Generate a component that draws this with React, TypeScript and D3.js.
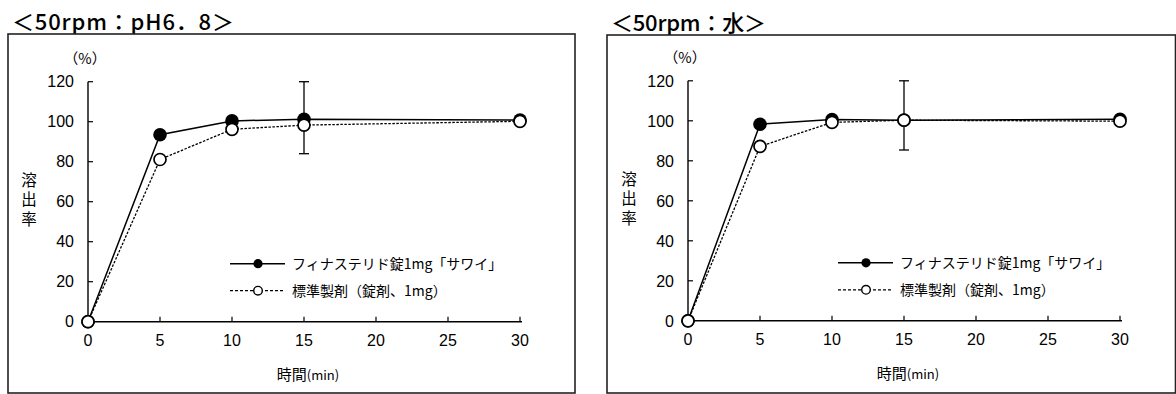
import * as d3 from "d3"

// dissolution data (time in min, % dissolved)
const times = [0, 5, 10, 15, 30]
const phTest = [0, 93.5, 100.4, 101.2, 100.8]
const phRef = [0, 81.1, 96.2, 98.3, 100.2]
const waterTest = [0, 98.3, 100.6, 100.3, 100.8]
const waterRef = [0, 87.2, 99.2, 100.3, 99.8]
const errTime = 15
const phErr = [84, 120]
const waterErr = [85.4, 120]

const xTicks = [0, 5, 10, 15, 20, 25, 30]
const yTicks = [0, 20, 40, 60, 80, 100, 120]
const testLabel = "フィナステリド錠1mg「サワイ」"
const refLabel = "標準製剤（錠剤、1mg）"
const yTitle = "溶出率"

const JP = "'Noto Sans CJK JP', sans-serif"
const NUM = "'Liberation Sans', Arial, sans-serif"

interface PanelProps {
  title: string
  titleWidth: number
  test: number[]
  ref: number[]
  err: number[]
  frame: { x: number; y: number; w: number; h: number }
  ox: number
  oy: number
  legendDx: number
}

const Panel = ({ title, titleWidth, test, ref, err, frame, ox, oy, legendDx }: PanelProps) => {
  const x = d3.scaleLinear().domain([0, 30]).range([ox, ox + 432])
  const y = d3.scaleLinear().domain([0, 120]).range([oy, oy - 240])

  const line = d3
    .line<number>()
    .x((_d, i) => x(times[i]))
    .y(d => y(d))

  const lx = ox + legendDx
  const rows = [y(29), y(15.5)]

  return (
    <g>
      <text
        x={frame.x + 4}
        y={frame.y - 4}
        fontFamily={JP}
        fontSize={22}
        fontWeight={500}
        textLength={titleWidth}
        lengthAdjust="spacing"
      >
        {title}
      </text>
      <rect
        x={frame.x}
        y={frame.y}
        width={frame.w}
        height={frame.h}
        fill="white"
        stroke="#222"
        strokeWidth={1.6}
      />

      {/* axes */}
      <line x1={ox} x2={ox} y1={y(0)} y2={y(120)} stroke="#000" strokeWidth={1.4} />
      <line x1={x(0)} x2={x(30) + 2} y1={y(0)} y2={y(0)} stroke="#000" strokeWidth={1.4} />
      {yTicks.map(t => (
        <g key={"y" + t}>
          <line x1={ox} x2={ox + 5} y1={y(t)} y2={y(t)} stroke="#000" strokeWidth={1.2} />
          <text
            x={ox - 14}
            y={y(t)}
            dy="0.36em"
            textAnchor="end"
            fontFamily={NUM}
            fontSize={16}
          >
            {t}
          </text>
        </g>
      ))}
      {xTicks.map(t => (
        <g key={"x" + t}>
          <line x1={x(t)} x2={x(t)} y1={y(0)} y2={y(0) - 5} stroke="#000" strokeWidth={1.2} />
          <text x={x(t)} y={y(0) + 24.5} textAnchor="middle" fontFamily={NUM} fontSize={16}>
            {t}
          </text>
        </g>
      ))}

      <text x={ox - 3} y={y(120) - 23} dy="0.36em" textAnchor="middle" fontFamily={JP} fontSize={14.5}>
        （%）
      </text>
      <text
        x={ox - 59}
        y={y(60.2)}
        textAnchor="middle"
        fontFamily={JP}
        fontSize={15.5}
        letterSpacing={4}
        style={{ writingMode: "vertical-rl" }}
      >
        {yTitle}
      </text>
      <text x={x(15) + 4} y={y(0) + 58} textAnchor="middle" fontFamily={JP} fontSize={15}>
        時間<tspan fontSize={13}>(min)</tspan>
      </text>

      {/* error bar */}
      <line x1={x(errTime)} x2={x(errTime)} y1={y(err[0])} y2={y(err[1])} stroke="#000" strokeWidth={1.3} />
      {err.map(v => (
        <line
          key={v}
          x1={x(errTime) - 5}
          x2={x(errTime) + 5}
          y1={y(v)}
          y2={y(v)}
          stroke="#000"
          strokeWidth={1.3}
        />
      ))}

      {/* series */}
      <path d={line(test) || ""} fill="none" stroke="#000" strokeWidth={1.5} />
      <path d={line(ref) || ""} fill="none" stroke="#000" strokeWidth={1.3} strokeDasharray="2.5,1.5" />
      {test.map((v, i) => (
        <circle key={"t" + i} cx={x(times[i])} cy={y(v)} r={6.8} fill="#000" />
      ))}
      {ref.map((v, i) => (
        <circle
          key={"r" + i}
          cx={x(times[i])}
          cy={y(v)}
          r={6}
          fill="white"
          stroke="#000"
          strokeWidth={1.7}
        />
      ))}

      {/* legend */}
      <line x1={lx} x2={lx + 55} y1={rows[0]} y2={rows[0]} stroke="#000" strokeWidth={1.4} />
      <circle cx={lx + 28} cy={rows[0]} r={4.6} fill="#000" />
      <text x={lx + 62} y={rows[0]} dy="0.36em" fontFamily={JP} fontSize={14}>
        {testLabel}
      </text>
      <line
        x1={lx}
        x2={lx + 55}
        y1={rows[1]}
        y2={rows[1]}
        stroke="#000"
        strokeWidth={1.2}
        strokeDasharray="3,2"
      />
      <circle cx={lx + 28} cy={rows[1]} r={4.3} fill="white" stroke="#000" strokeWidth={1.4} />
      <text x={lx + 62} y={rows[1]} dy="0.36em" fontFamily={JP} fontSize={14}>
        {refLabel}
      </text>
    </g>
  )
}

const App = () => {
  return (
    <svg
      width={1176}
      height={394}
      style={{ position: "absolute", left: 0, top: 0, display: "block", background: "white" }}
    >
      <Panel
        title="＜50rpm：pH6．8＞"
        titleWidth={222}
        test={phTest}
        ref={phRef}
        err={phErr}
        frame={{ x: 8, y: 34, w: 567, h: 359 }}
        ox={88}
        oy={321.7}
        legendDx={142}
      />
      <Panel
        title="＜50rpm：水＞"
        titleWidth={155}
        test={waterTest}
        ref={waterRef}
        err={waterErr}
        frame={{ x: 607, y: 35, w: 568.5, h: 358 }}
        ox={688}
        oy={320.8}
        legendDx={150}
      />
    </svg>
  )
}

export default App
